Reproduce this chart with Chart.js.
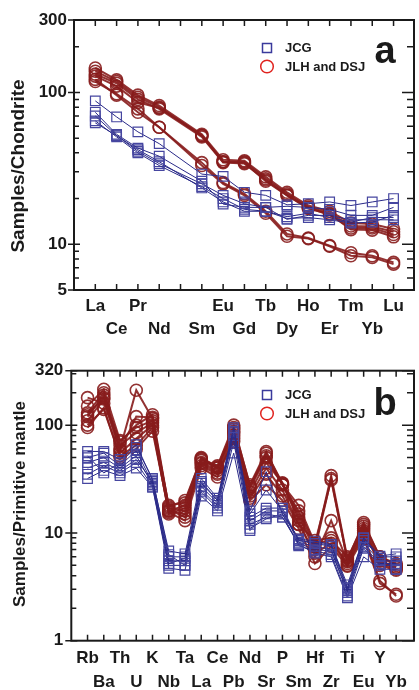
<!DOCTYPE html>
<html>
<head>
<meta charset="utf-8">
<script src="https://cdn.jsdelivr.net/npm/chart.js@4.4.1/dist/chart.umd.min.js"></script>
<style>
html, body { margin: 0; padding: 0; background: #fff; overflow: hidden; }
#wrap { position: relative; width: 419px; height: 690px; overflow: hidden; }
canvas { position: absolute; left: 0; }
</style>
</head>
<body>
<div id="wrap">
  <canvas id="ree" width="422" height="345" style="top:0;width:422px;height:345px"></canvas>
  <canvas id="spider" width="422" height="345" style="top:345px;width:422px;height:345px"></canvas>
</div>
<script>
// --- panel a: chondrite-normalised REE ---
const reeAxis = ['La', 'Ce', 'Pr', 'Nd', 'Pm', 'Sm', 'Eu', 'Gd', 'Tb', 'Dy', 'Ho', 'Er', 'Tm', 'Yb', 'Lu'];
const reeMeasured = ['La', 'Ce', 'Pr', 'Nd', 'Sm', 'Eu', 'Gd', 'Tb', 'Dy', 'Ho', 'Er', 'Tm', 'Yb', 'Lu'];
const reeYTicks = [5, 10, 100, 300];

const jcgRee = [
    [88, 69, 55, 46, 29, 28, 22, 21, 18.2, 18.5, 19, 18, 19, 20],
    [74, 53, 43, 38, 26, 18.4, 17.5, 17.5, 17.8, 17.5, 17, 15.5, 15.5, 17.5],
    [70, 52, 41, 34, 25, 21, 18.5, 17.5, 14.6, 15.5, 15.5, 14.5, 14.5, 14.5],
    [65, 51, 40, 33, 24, 20, 17, 16.5, 14.8, 15, 14.5, 13.8, 14, 15.5],
    [63, 52, 42, 35, 23.5, 19, 16.5, 16.5, 15.2, 16, 15, 14, 15, 15]
];
const jlhRee = [
    [145, 121, 96, 82, 53, 36, 35.5, 27.8, 22, 18, 16.5, 13.8, 13.6, 12.6],
    [138, 118, 93, 80, 52, 35, 35, 27, 21.5, 17.6, 16, 13.2, 13.1, 12.1],
    [132, 115, 90, 78, 51, 34.5, 34, 26.5, 21, 17.4, 15.6, 12.8, 12.8, 11.6],
    [128, 110, 86, 79, 52, 35, 34.5, 26, 21, 17.2, 15.8, 12.5, 12.4, 11.2],
    [122, 96, 74, 59, 34.5, 25.5, 21.5, 16.5, 11.7, 11, 9.8, 8.8, 8.4, 7.6],
    [118, 98, 78, 59, 33, 25, 21, 16, 11.3, 10.9, 9.7, 8.4, 8.2, 7.4]
];

// --- panel b: primitive-mantle-normalised trace elements ---
const spiderAxis = ['Rb', 'Ba', 'Th', 'U', 'K', 'Nb', 'Ta', 'La', 'Ce', 'Pb', 'Nd', 'Sr', 'P', 'Sm', 'Hf', 'Zr', 'Ti', 'Eu', 'Y', 'Yb'];
const spiderYTicks = [1, 10, 100, 320];

const jcgSpider = [
    [57, 57, 48, 66, 31, 6.8, 6.4, 32, 21, 95, 16, 37, 15, 8.8, 8.4, 7.8, 3.1, 9, 6.1, 6.4],
    [50, 55, 42, 58, 29, 6.0, 6.0, 29, 20, 92, 14, 17, 17, 8.5, 8, 7.5, 3.0, 8.5, 6, 6],
    [45, 50, 40, 52, 28, 5.5, 5.5, 27, 19, 88, 13, 16, 16, 8.2, 7.5, 7, 2.9, 8, 5.5, 5.5],
    [40, 45, 38, 48, 30, 5.2, 5.8, 25, 18, 80, 12, 14, 14, 8, 7, 6.8, 2.8, 7.5, 5.2, 5.2],
    [35, 42, 36, 45, 27, 5.0, 5.0, 24, 17, 70, 11, 13.5, 15, 7.6, 6.8, 6.3, 2.6, 7.2, 5, 5],
    [32, 38, 34, 40, 26.5, 4.7, 4.5, 22, 16, 55, 10.5, 15, 14, 7.8, 6.5, 6, 2.5, 6, 4.6, 4.6],
    [52, 36, 45, 62, 32, 6.3, 5.0, 30, 20, 85, 15, 25, 16, 8.6, 8, 7.8, 3.3, 9, 5.8, 4.6]
];
const jlhSpider = [
    [120, 190, 60, 211, 115, 16, 18, 48, 42, 100, 27, 55, 29, 15, 7.5, 34, 5.8, 12, 6.0, 5.0],
    [130, 200, 58, 120, 118, 17, 16, 47, 40, 92, 26, 50, 28, 14, 7.0, 32, 5.5, 11.5, 5.5, 4.8],
    [150, 215, 72, 95, 110, 16.5, 14, 45, 38, 85, 24, 45, 29, 13, 6.0, 13, 5.4, 11, 5.2, 4.6],
    [180, 160, 65, 85, 105, 18, 19, 50, 41, 95, 28, 57, 28, 18, 8.0, 8.5, 6.0, 10, 5.5, 4.8],
    [110, 175, 55, 75, 100, 15, 17, 42, 35, 80, 22, 40, 25, 12, 8.5, 9, 5.0, 10.5, 5.0, 4.5],
    [100, 140, 52, 65, 95, 15.5, 13, 40, 33, 75, 20, 28, 20, 11, 5.2, 7.5, 4.9, 9, 3.4, 2.7],
    [95, 145, 50, 60, 88, 16, 15, 44, 36, 71, 21, 35, 22, 12, 6.5, 8, 5.2, 9.5, 3.6, 2.6],
    [125, 180, 70, 100, 125, 17.5, 20, 49, 40, 88, 27, 52, 28, 16, 8, 31, 5.6, 12.5, 6, 5.2]
];

const FONT = '"Liberation Sans", Arial, sans-serif';
const INK = '#1a1a1a';
const BLUE_LINE = '#2a2a88';
const BLUE_PT = '#4646a0';
const RED = 'rgba(135,28,28,0.9)';

function minorTicks(min, max) {
    const out = [];
    for (let d = 1; d <= 1000; d *= 10) {
        for (let k = 2; k <= 9; k++) {
            const v = k * d;
            if (v > min && v < max) out.push(v);
        }
    }
    return out;
}

function buildSets(rows, names, axis, blue) {
    return rows.map(row => ({
        data: row.map((v, i) => ({ x: axis.indexOf(names[i]), y: v })),
        borderColor: blue ? BLUE_LINE : RED,
        borderWidth: blue ? 1 : 2,
        pointStyle: blue ? 'rect' : 'circle',
        pointRadius: blue ? 6.8 : 6,
        pointBorderColor: blue ? BLUE_PT : RED,
        pointBorderWidth: blue ? 1.2 : 1.6,
        pointBackgroundColor: 'transparent',
        fill: false,
        tension: 0
    }));
}

// frame, inside ticks, legend, panel letter and y title
function decorations(cfg) {
    return {
        id: 'decorations',
        afterDraw(chart) {
            const { ctx, chartArea: a, scales: { x, y } } = chart;
            ctx.save();
            ctx.strokeStyle = INK;
            ctx.lineWidth = 2;
            ctx.strokeRect(a.left, a.top, a.right - a.left, a.bottom - a.top);

            ctx.lineWidth = 1.5;
            ctx.beginPath();
            cfg.axis.forEach((_, i) => {
                const px = x.getPixelForValue(i);
                ctx.moveTo(px, a.bottom); ctx.lineTo(px, a.bottom - 6);
                ctx.moveTo(px, a.top); ctx.lineTo(px, a.top + 6);
            });
            cfg.yTicks.forEach(v => {
                const py = y.getPixelForValue(v);
                ctx.moveTo(a.left - 6, py); ctx.lineTo(a.left + 6, py);
                ctx.moveTo(a.right - 12, py); ctx.lineTo(a.right, py);
            });
            minorTicks(cfg.yTicks[0], cfg.yTicks[cfg.yTicks.length - 1]).forEach(v => {
                const py = y.getPixelForValue(v);
                ctx.moveTo(a.left, py); ctx.lineTo(a.left + 5, py);
                ctx.moveTo(a.right - 7, py); ctx.lineTo(a.right, py);
            });
            ctx.stroke();

            // legend
            const lx = 267, ly = cfg.legendY;
            ctx.lineWidth = 1.5;
            ctx.strokeStyle = '#3a3a9c';
            ctx.strokeRect(lx - 4.5, ly - 4.5, 9, 9);
            ctx.strokeStyle = '#e0231f';
            ctx.beginPath();
            ctx.arc(lx, ly + 18.5, 6.3, 0, Math.PI * 2);
            ctx.stroke();
            ctx.fillStyle = INK;
            ctx.font = 'bold 13px ' + FONT;
            ctx.textBaseline = 'middle';
            ctx.textAlign = 'left';
            ctx.fillText('JCG', 285, ly + 0.5);
            ctx.fillText('JLH and DSJ', 285, ly + 19);

            ctx.font = 'bold 38px ' + FONT;
            ctx.textAlign = 'center';
            ctx.textBaseline = 'alphabetic';
            ctx.fillText(cfg.letter, 385, cfg.letterY);

            ctx.translate(cfg.titleX, cfg.titleY);
            ctx.rotate(-Math.PI / 2);
            ctx.font = 'bold ' + cfg.titleSize + 'px ' + FONT;
            ctx.textBaseline = 'middle';
            ctx.fillText(cfg.title, 0, 0);
            ctx.restore();
        }
    };
}

function makeChart(id, cfg) {
    return new Chart(document.getElementById(id), {
        type: 'line',
        data: { datasets: cfg.datasets },
        options: {
            responsive: false,
            animation: false,
            devicePixelRatio: 1,
            events: [],
            layout: { padding: { top: cfg.top, right: 1, left: 0, bottom: 0 } },
            plugins: { legend: { display: false }, tooltip: { enabled: false } },
            scales: {
                x: {
                    type: 'linear',
                    min: -1,
                    max: cfg.xMax,
                    grid: { display: false, drawTicks: false, tickLength: 0 },
                    border: { display: false },
                    afterFit: s => { s.height = cfg.xHeight; },
                    afterBuildTicks: s => { s.ticks = cfg.axis.map((_, i) => ({ value: i })); },
                    ticks: {
                        autoSkip: false,
                        maxRotation: 0,
                        minRotation: 0,
                        padding: cfg.xPad,
                        color: INK,
                        font: { family: FONT, size: 17, weight: 'bold', lineHeight: 1.36 },
                        callback: v => {
                            const i = Math.round(v);
                            const name = cfg.labels[i] || '';
                            return i % 2 ? ['', name] : name;
                        }
                    }
                },
                y: {
                    type: 'logarithmic',
                    min: cfg.yTicks[0],
                    max: cfg.yTicks[cfg.yTicks.length - 1],
                    grid: { display: false, drawTicks: false, tickLength: 0 },
                    border: { display: false },
                    afterFit: s => { s.width = cfg.yWidth; },
                    afterBuildTicks: s => { s.ticks = cfg.yTicks.map(v => ({ value: v })); },
                    ticks: {
                        padding: cfg.yPad,
                        color: INK,
                        font: { family: FONT, size: 17, weight: 'bold' },
                        callback: v => String(v)
                    }
                }
            }
        },
        plugins: [decorations(cfg)]
    });
}

makeChart('ree', {
    axis: reeAxis,
    labels: reeAxis.map(e => (e === 'Pm' ? '' : e)),
    yTicks: reeYTicks,
    datasets: buildSets(jcgRee, reeMeasured, reeAxis, true)
        .concat(buildSets(jlhRee, reeMeasured, reeAxis, false)),
    top: 20, xMax: 14.96, xHeight: 55, xPad: 5, yWidth: 74, yPad: 7,
    legendY: 48, letter: 'a', letterY: 63, titleX: 19, titleY: 166, titleSize: 19,
    title: 'Samples/Chondrite'
});

makeChart('spider', {
    axis: spiderAxis,
    labels: spiderAxis,
    yTicks: spiderYTicks,
    datasets: buildSets(jcgSpider, spiderAxis, spiderAxis, true)
        .concat(buildSets(jlhSpider, spiderAxis, spiderAxis, false)),
    top: 25.7, xMax: 20.1, xHeight: 49.3, xPad: 6.5, yWidth: 71.3, yPad: 8,
    legendY: 50, letter: 'b', letterY: 70, titleX: 20, titleY: 159, titleSize: 17,
    title: 'Samples/Primitive mantle'
});
</script>
</body>
</html>
